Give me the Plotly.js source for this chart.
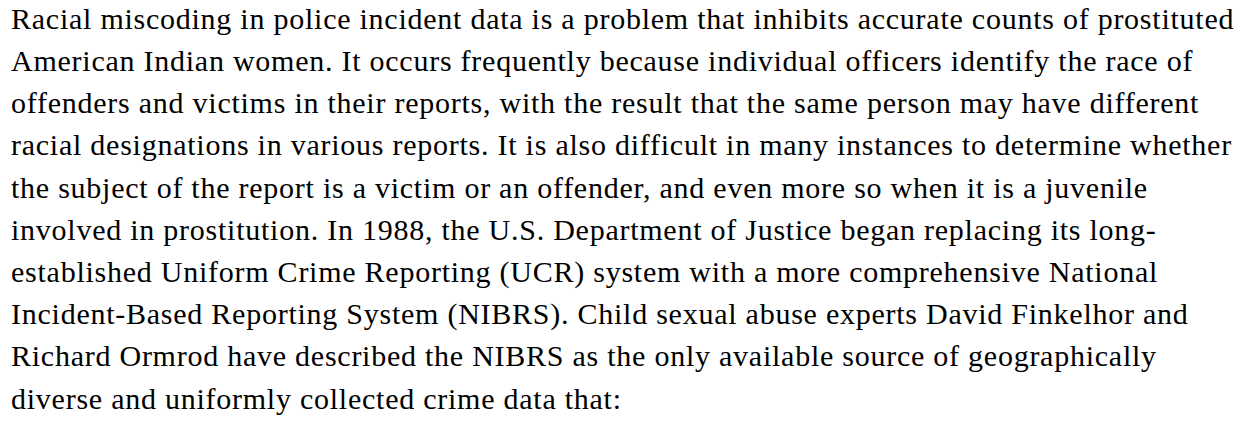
<!DOCTYPE html>
<html>
<head>
<meta charset="utf-8">
<script src="https://cdn.plot.ly/plotly-3.0.1.min.js"></script>
<style>
html,body{margin:0;padding:0;background:#fff;}
#chart{width:1249px;height:421px;}
#chart .textpoint text{letter-spacing:0.75px;}
</style>
</head>
<body>
<div id="chart"></div>
<script>
const lines = [
  "Racial miscoding in police incident data is a problem that inhibits accurate counts of prostituted",
  "American Indian women. It occurs frequently because individual officers identify the race of",
  "offenders and victims in their reports, with the result that the same person may have different",
  "racial designations in various reports. It is also difficult in many instances to determine whether",
  "the subject of the report is a victim or an offender, and even more so when it is a juvenile",
  "involved in prostitution. In 1988, the U.S. Department of Justice began replacing its long-",
  "established Uniform Crime Reporting (UCR) system with a more comprehensive National",
  "Incident-Based Reporting System (NIBRS). Child sexual abuse experts David Finkelhor and",
  "Richard Ormrod have described the NIBRS as the only available source of geographically",
  "diverse and uniformly collected crime data that:"
];
const lineIndex = lines.map((_, i) => i);
const xStart = lines.map(() => 0);

const trace = {
  type: 'scatter',
  mode: 'text',
  x: xStart,
  y: lineIndex,
  text: lines,
  textposition: 'middle right',
  textfont: {family: 'Liberation Serif, Times New Roman, serif', size: 30, color: '#000'},
  hoverinfo: 'skip',
  showlegend: false,
  cliponaxis: false
};

const layout = {
  width: 1249,
  height: 421,
  margin: {l: 0, r: 0, t: 0, b: 0},
  paper_bgcolor: '#fff',
  plot_bgcolor: '#fff',
  xaxis: {range: [-11, 1238], visible: false, fixedrange: true},
  yaxis: {range: [9.47, -0.505], visible: false, fixedrange: true},
  showlegend: false
};

Plotly.newPlot('chart', [trace], layout, {staticPlot: true, displayModeBar: false});
</script>
</body>
</html>
